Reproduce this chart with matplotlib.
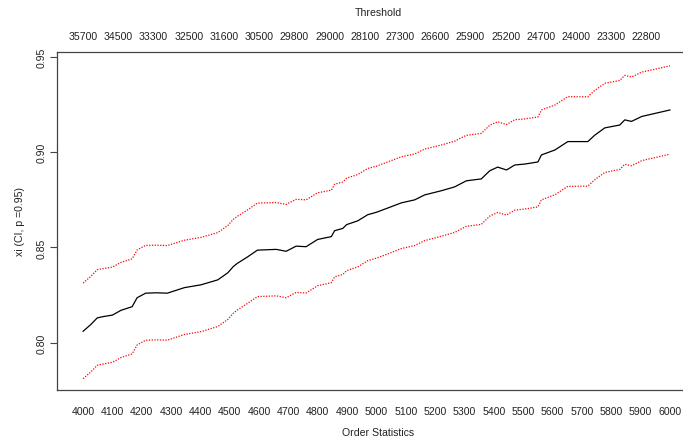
import numpy as np
import matplotlib
matplotlib.use('Agg')
import matplotlib.pyplot as plt

plt.rcParams['font.family'] = ['Liberation Sans', 'DejaVu Sans']

# order statistics where the curves were read
k = [4000, 4026, 4048, 4065, 4100, 4129, 4167, 4184, 4213, 4250,
     4287, 4345, 4402, 4459, 4493, 4512, 4526, 4560, 4594, 4658,
     4692, 4726, 4760, 4799, 4846, 4857, 4885, 4898, 4936, 4970,
     5000, 5038, 5084, 5130, 5164, 5221, 5266, 5306, 5357, 5386,
     5413, 5443, 5471, 5505, 5550, 5562, 5608, 5652, 5720, 5744,
     5778, 5829, 5846, 5869, 5904, 5938, 6000]

xi = [0.8060, 0.8095, 0.8130, 0.8136, 0.8145, 0.8170, 0.8189, 0.8236, 0.8260, 0.8262,
      0.8260, 0.8289, 0.8304, 0.8330, 0.8367, 0.8400, 0.8417, 0.8450, 0.8486, 0.8490,
      0.8480, 0.8507, 0.8504, 0.8542, 0.8557, 0.8588, 0.8600, 0.8620, 0.8640, 0.8672,
      0.8685, 0.8707, 0.8734, 0.8750, 0.8776, 0.8798, 0.8818, 0.8850, 0.8860, 0.8903,
      0.8922, 0.8907, 0.8933, 0.8938, 0.8949, 0.8986, 0.9012, 0.9056, 0.9056, 0.9090,
      0.9128, 0.9143, 0.9170, 0.9162, 0.9188, 0.9200, 0.9222]

ci_upper = [0.8313, 0.8348, 0.8383, 0.8388, 0.8397, 0.8422, 0.8440, 0.8487, 0.8511, 0.8512,
            0.8510, 0.8538, 0.8553, 0.8578, 0.8615, 0.8648, 0.8664, 0.8697, 0.8733, 0.8736,
            0.8726, 0.8753, 0.8750, 0.8787, 0.8801, 0.8832, 0.8844, 0.8864, 0.8883, 0.8915,
            0.8927, 0.8949, 0.8976, 0.8991, 0.9017, 0.9038, 0.9058, 0.9089, 0.9099, 0.9142,
            0.9160, 0.9145, 0.9171, 0.9175, 0.9185, 0.9222, 0.9248, 0.9292, 0.9291, 0.9325,
            0.9362, 0.9377, 0.9404, 0.9395, 0.9421, 0.9432, 0.9454]

ci_lower = [0.7811, 0.7846, 0.7881, 0.7887, 0.7897, 0.7922, 0.7941, 0.7988, 0.8013, 0.8015,
            0.8013, 0.8043, 0.8058, 0.8085, 0.8122, 0.8155, 0.8172, 0.8206, 0.8242, 0.8246,
            0.8236, 0.8264, 0.8261, 0.8299, 0.8315, 0.8346, 0.8358, 0.8378, 0.8398, 0.8431,
            0.8444, 0.8466, 0.8494, 0.8510, 0.8536, 0.8559, 0.8579, 0.8611, 0.8621, 0.8665,
            0.8684, 0.8670, 0.8696, 0.8702, 0.8713, 0.8750, 0.8777, 0.8821, 0.8822, 0.8856,
            0.8894, 0.8910, 0.8937, 0.8929, 0.8956, 0.8968, 0.8990]

bottom_ticks = list(range(4000, 6001, 100))
top_ticks = list(range(4000, 5921, 120))
thresholds = ['35700', '34500', '33300', '32500', '31600', '30500', '29800', '29000',
              '28100', '27300', '26600', '25900', '25200', '24700', '24000', '23300', '22800']
y_ticks = [0.80, 0.85, 0.90, 0.95]

W, H = 683, 439
fig = plt.figure(figsize=(W / 100, H / 100), dpi=100)
# plot box runs past the right edge of the picture (cropped R device)
l, r, t, b = 57.3, 699, 52.7, 391.3
ax = fig.add_axes([l / W, 1 - b / H, (r - l) / W, (b - t) / H])

ax.plot(k, xi, color='black', lw=0.9)
ax.plot(k, ci_upper, color='red', lw=0.9, ls=(0, (1, 1.2)))
ax.plot(k, ci_lower, color='red', lw=0.9, ls=(0, (1, 1.2)))

ax.set_xlim(3912, 6099)
ax.set_ylim(0.775, 0.9528)

txt = '#222222'
ax.set_xticks(bottom_ticks)
ax.set_xticklabels([str(v) for v in bottom_ticks])
ax.tick_params(axis='x', length=0, pad=11, labelsize=7.6, labelcolor=txt)
ax.set_yticks(y_ticks)
ax.set_yticklabels(['%.2f' % v for v in y_ticks], rotation=90, va='center')
ax.tick_params(axis='y', length=5, width=0.8, color='#444444', pad=3,
               labelsize=7.6, labelcolor=txt)

for s in ax.spines.values():
    s.set_color('#444444')
    s.set_linewidth(0.9)

ax.set_xlabel('Order Statistics', fontsize=7.6, color=txt, labelpad=8)
ax.set_ylabel('xi (CI, p =0.95)', fontsize=7.6, color=txt, labelpad=8)

top = ax.twiny()
top.set_xlim(ax.get_xlim())
top.set_xticks(top_ticks)
top.set_xticklabels(thresholds)
top.tick_params(axis='x', length=0, pad=8, labelsize=7.6, labelcolor=txt)
for s in top.spines.values():
    s.set_visible(False)
top.set_xlabel('Threshold', fontsize=7.6, color=txt, labelpad=11)

fig.savefig('out.png', dpi=100)
